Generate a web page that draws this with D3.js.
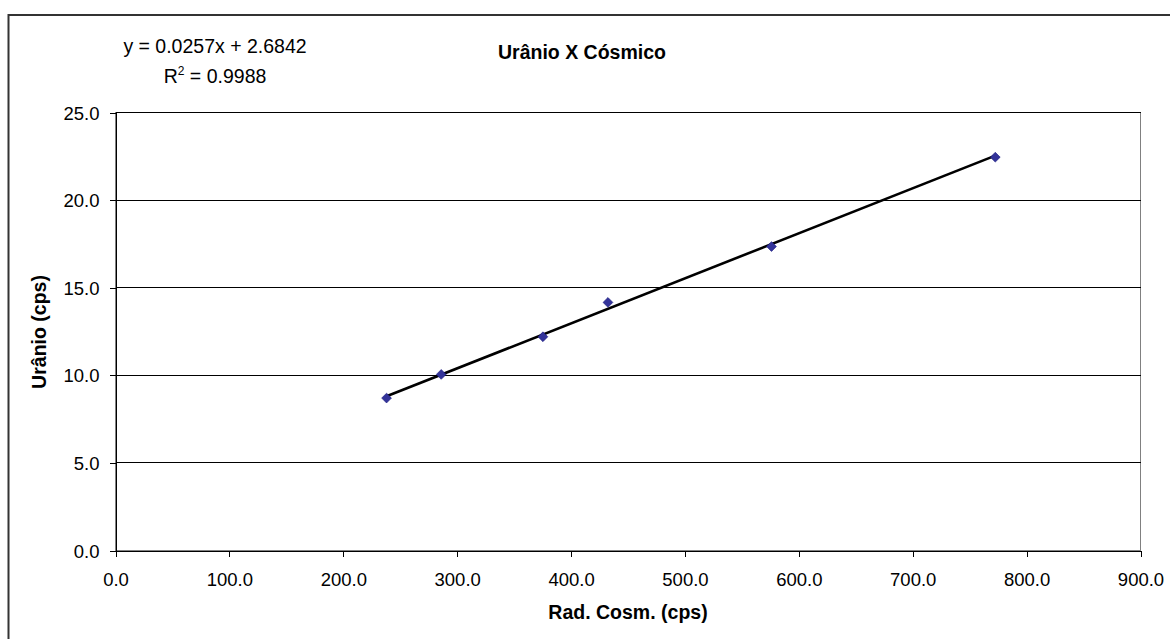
<!DOCTYPE html>
<meta charset="utf-8">
<style>
    body { margin: 0; background: #fff; }
    text { font-family: "Liberation Sans", Arial, sans-serif; fill: #000; }
    .tick text { font-size: 18.5px; }
    .grid line { stroke: #000; stroke-width: 1px; shape-rendering: crispEdges; }
</style>
<svg width="1170" height="639"></svg>
<script src="https://d3js.org/d3.v7.min.js"></script>
<script>

    // values
    var cosmico = [238.0, 286.0, 375.3, 432.4, 576.0, 772.5];
    var uranio = [8.70, 10.05, 12.20, 14.16, 17.35, 22.45];
    var slope = 0.0257, intercept = 2.6842;
    var xTicks = [0, 100, 200, 300, 400, 500, 600, 700, 800, 900];
    var yTicks = [0, 5, 10, 15, 20, 25];

    var svg = d3.select("svg");

    // chart border (runs off the picture to the right and bottom)
    svg.append("rect")
        .attr("x", 8.5).attr("y", 15)
        .attr("width", 1200).attr("height", 700)
        .attr("fill", "none")
        .attr("stroke", "#333")
        .attr("stroke-width", 2);

    var x = d3.scaleLinear().domain([0, 900]).range([115.5, 1140.5]);
    var y = d3.scaleLinear().domain([0, 25]).range([550.5, 112.5]);

    // plot area frame
    svg.append("rect")
        .attr("x", x(0)).attr("y", y(25))
        .attr("width", x(900) - x(0)).attr("height", y(0) - y(25))
        .attr("fill", "none")
        .attr("stroke", "#808080")
        .attr("stroke-width", 1)
        .attr("shape-rendering", "crispEdges");

    svg.append("g")
        .attr("class", "grid")
        .selectAll("line")
        .data(yTicks.filter(function (d) { return d > 0; }))
        .enter().append("line")
        .attr("x1", x(0)).attr("x2", x(900))
        .attr("y1", function (d) { return y(d); })
        .attr("y2", function (d) { return y(d); });

    var xAxis = svg.append("g")
        .attr("transform", "translate(0," + y(0) + ")")
        .call(d3.axisBottom(x).tickValues(xTicks).tickSize(6).tickPadding(16)
            .tickFormat(d3.format(".1f")));

    var yAxis = svg.append("g")
        .attr("transform", "translate(" + x(0) + ",0)")
        .call(d3.axisLeft(y).tickValues(yTicks).tickSize(6).tickPadding(10)
            .tickFormat(d3.format(".1f")));

    [xAxis, yAxis].forEach(function (a) {
        a.select(".domain").attr("stroke", "#000").attr("shape-rendering", "crispEdges");
        a.selectAll(".tick line").attr("stroke", "#000").attr("shape-rendering", "crispEdges");
        a.selectAll(".tick text").attr("font-family", null).attr("font-size", null);
    });
    xAxis.attr("font-family", null).attr("font-size", null);
    yAxis.attr("font-family", null).attr("font-size", null);
    yAxis.selectAll(".tick text").attr("dy", "0.36em");

    // linear trendline over the data range
    var xMin = d3.min(cosmico), xMax = d3.max(cosmico);
    svg.append("line")
        .attr("x1", x(xMin)).attr("y1", y(slope * xMin + intercept))
        .attr("x2", x(xMax)).attr("y2", y(slope * xMax + intercept))
        .attr("stroke", "#000")
        .attr("stroke-width", 2.6);

    var pts = d3.range(cosmico.length);
    svg.append("g")
        .selectAll("path")
        .data(pts)
        .enter().append("path")
        .attr("d", d3.symbol().type(d3.symbolSquare).size(48))
        .attr("transform", function (i) {
            return "translate(" + x(cosmico[i]) + "," + y(uranio[i]) + ") rotate(45)";
        })
        .attr("fill", "#333399")
        .attr("stroke", "#1a1a80")
        .attr("stroke-width", 0.6);

    // titles
    svg.append("text")
        .attr("x", 582).attr("y", 59)
        .attr("text-anchor", "middle")
        .style("font-size", "19.5px")
        .style("font-weight", "bold")
        .text("Urânio X Cósmico");

    svg.append("text")
        .attr("x", 628).attr("y", 619)
        .attr("text-anchor", "middle")
        .style("font-size", "19.5px")
        .style("font-weight", "bold")
        .text("Rad. Cosm. (cps)");

    svg.append("text")
        .attr("transform", "translate(46,332) rotate(-90)")
        .attr("text-anchor", "middle")
        .style("font-size", "19.5px")
        .style("font-weight", "bold")
        .text("Urânio (cps)");

    // trendline equation
    var eq = svg.append("g").style("font-size", "19.5px");
    eq.append("text")
        .attr("x", 215).attr("y", 53)
        .attr("text-anchor", "middle")
        .text("y = " + slope + "x + " + intercept);
    var r2 = eq.append("text")
        .attr("x", 215).attr("y", 83)
        .attr("text-anchor", "middle");
    r2.append("tspan").text("R");
    r2.append("tspan").attr("dy", -8).style("font-size", "12px").text("2");
    r2.append("tspan").attr("dy", 8).text(" = 0.9988");

</script>
